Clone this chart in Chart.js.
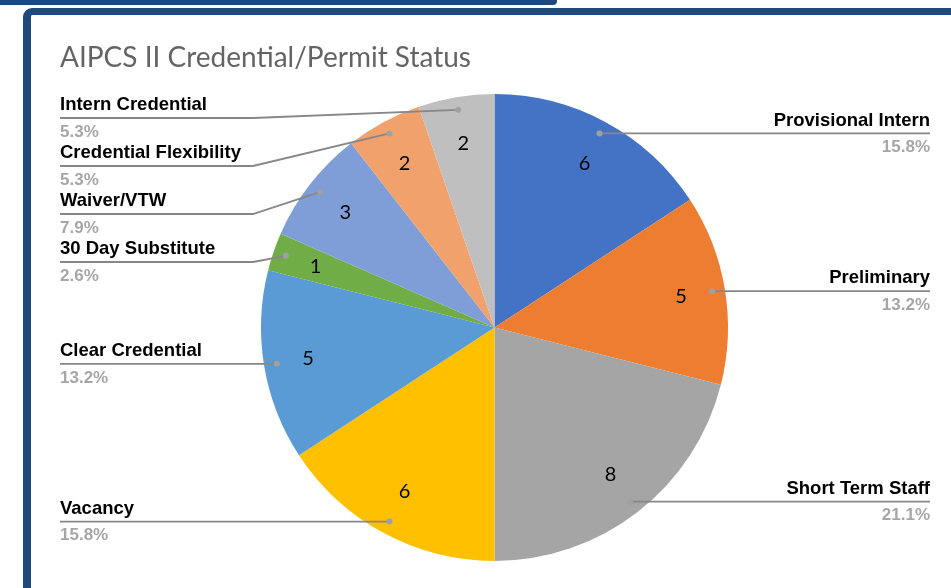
<!DOCTYPE html>
<html>
<head>
<meta charset="utf-8">
<script src="https://cdn.jsdelivr.net/npm/chart.js@4.4.1/dist/chart.umd.min.js"></script>
<style>
  html, body { margin: 0; padding: 0; background: #ffffff; }
  #wrap { position: relative; width: 951px; height: 588px; overflow: hidden; background: #ffffff; }
  #topbar { position: absolute; left: 0; top: 0; width: 557px; height: 5px; background: #1F497D; border-bottom-right-radius: 4px; }
  #frame { position: absolute; left: 23px; top: 8px; width: 1000px; height: 700px; border-top: 7px solid #1F497D; border-left: 8px solid #1F497D; border-top-left-radius: 9px; box-sizing: border-box; }
  #c { position: absolute; left: 0; top: 0; }
</style>
</head>
<body>
<div id="wrap">
  <div id="topbar"></div>
  <div id="frame"></div>
  <canvas id="c" width="951" height="588"></canvas>
</div>
<script>
const chartTitle = 'AIPCS II Credential/Permit Status';
const categories = ['Provisional Intern', 'Preliminary', 'Short Term Staff', 'Vacancy', 'Clear Credential', '30 Day Substitute', 'Waiver/VTW', 'Credential Flexibility', 'Intern Credential'];
const counts = [6, 5, 8, 6, 5, 1, 3, 2, 2];
const sliceColors = ['#4472C4', '#ED7D31', '#A5A5A5', '#FFC000', '#5B9BD5', '#70AD47', '#7F9ED7', '#F1A26C', '#BFBFBF'];

const total = counts.reduce((a, b) => a + b, 0);

const labelPlugin = {
  id: 'excelLabels',
  afterDraw(chart) {
    const ctx = chart.ctx;
    ctx.save();
    // title
    ctx.fillStyle = '#646464';
    ctx.font = '28px Lato';
    ctx.textAlign = 'left';
    ctx.textBaseline = 'middle';
    ctx.fillText(chartTitle, 60, 58);

    const meta = chart.getDatasetMeta(0);
    const leftX = 60, rightX = 930, kneeX = 253, minLineY = 118, gap = 48;
    const items = meta.data.map((arc, i) => {
      const p = arc.getProps(['x', 'y', 'startAngle', 'endAngle', 'outerRadius'], true);
      const mid = (p.startAngle + p.endAngle) / 2;
      return {
        i,
        mid,
        numX: p.x + Math.cos(mid) * p.outerRadius * 0.81,
        numY: p.y + Math.sin(mid) * p.outerRadius * 0.80,
        dotX: p.x + Math.cos(mid) * p.outerRadius * 0.945,
        dotY: p.y + Math.sin(mid) * p.outerRadius * 0.945,
        right: Math.cos(mid) >= 0
      };
    });

    // numbers inside slices
    ctx.fillStyle = '#000000';
    ctx.font = '20px Lato';
    ctx.textAlign = 'center';
    ctx.textBaseline = 'middle';
    items.forEach(it => ctx.fillText(String(counts[it.i]), it.numX, it.numY));

    const pct = v => (v / total * 100).toFixed(1) + '%';
    const drawDot = (x, y) => {
      ctx.fillStyle = '#A0A0A0';
      ctx.beginPath();
      ctx.arc(x, y, 3, 0, Math.PI * 2);
      ctx.fill();
    };
    ctx.lineWidth = 1.8;
    const lineColor = '#878787';

    // right side
    items.filter(it => it.right).forEach(it => {
      const ly = it.dotY;
      ctx.strokeStyle = lineColor;
      ctx.beginPath();
      ctx.moveTo(it.dotX, ly);
      ctx.lineTo(rightX, ly);
      ctx.stroke();
      drawDot(it.dotX, it.dotY);
      ctx.textAlign = 'right';
      ctx.fillStyle = '#000000';
      ctx.font = 'bold 18.5px "Liberation Sans"';
      ctx.fillText(categories[it.i], rightX, ly - 13);
      ctx.fillStyle = '#A6A6A6';
      ctx.font = 'bold 17px "Liberation Sans"';
      ctx.fillText(pct(counts[it.i]), rightX, ly + 14);
    });

    // left side, stacked top-down
    const left = items.filter(it => !it.right).sort((a, b) => a.dotY - b.dotY);
    let prev = -Infinity;
    left.forEach(it => {
      const ly = Math.max(it.dotY, prev + gap, minLineY);
      prev = ly;
      ctx.strokeStyle = lineColor;
      ctx.beginPath();
      ctx.moveTo(leftX, ly);
      if (Math.abs(ly - it.dotY) > 0.5) {
        ctx.lineTo(kneeX, ly);
      }
      ctx.lineTo(it.dotX, it.dotY);
      ctx.stroke();
      drawDot(it.dotX, it.dotY);
      ctx.textAlign = 'left';
      ctx.fillStyle = '#000000';
      ctx.font = 'bold 18.5px "Liberation Sans"';
      ctx.fillText(categories[it.i], leftX, ly - 13);
      ctx.fillStyle = '#A6A6A6';
      ctx.font = 'bold 17px "Liberation Sans"';
      ctx.fillText(pct(counts[it.i]), leftX, ly + 14);
    });
    ctx.restore();
  }
};

new Chart(document.getElementById('c'), {
  type: 'pie',
  data: {
    labels: categories,
    datasets: [{
      data: counts,
      backgroundColor: sliceColors,
      borderWidth: 0
    }]
  },
  options: {
    responsive: false,
    devicePixelRatio: 1,
    animation: false,
    layout: { padding: { top: 94, bottom: 27, left: 261, right: 223 } },
    plugins: {
      legend: { display: false },
      tooltip: { enabled: false },
      title: { display: false }
    }
  },
  plugins: [labelPlugin]
});
</script>
</body>
</html>
